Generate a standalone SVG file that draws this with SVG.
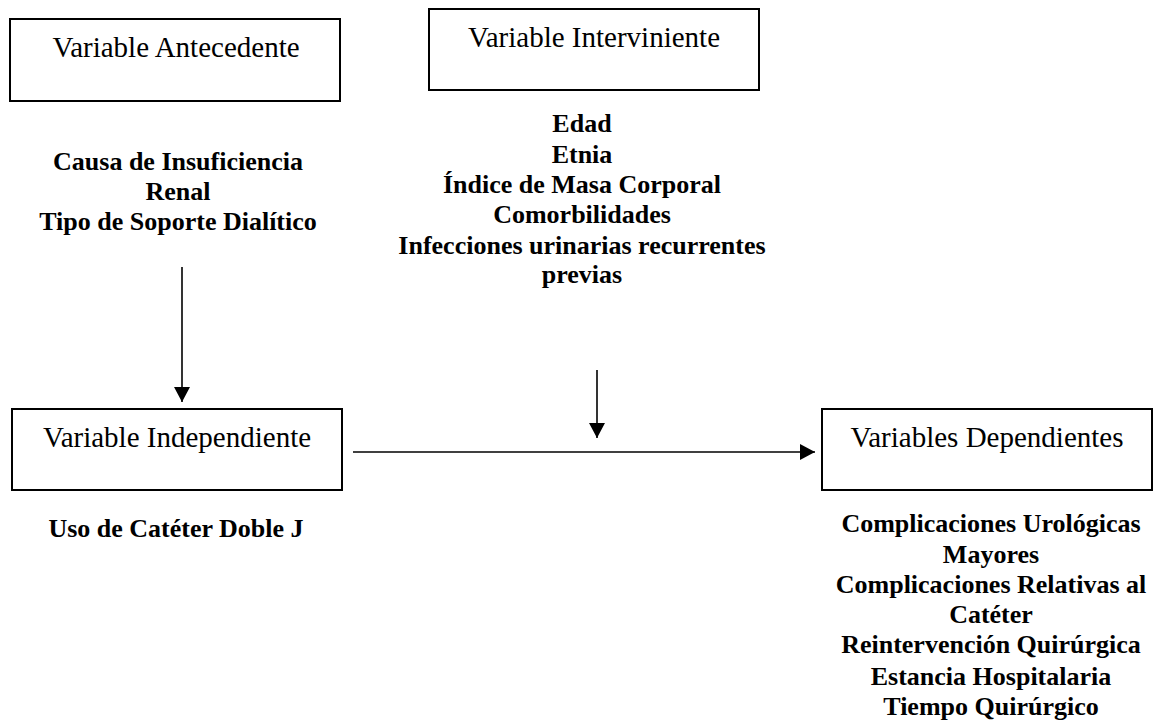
<svg xmlns="http://www.w3.org/2000/svg" width="1158" height="723" viewBox="0 0 1158 723">
  <style>
    .box { fill: #ffffff; stroke: #000000; stroke-width: 2; }
    .title { font-family: "Liberation Serif", "Times New Roman", serif; font-size: 29px; fill: #000000; text-anchor: middle; }
    .list { font-family: "Liberation Serif", "Times New Roman", serif; font-size: 26px; font-weight: bold; fill: #000000; text-anchor: middle; }
    .conn { stroke: #000000; stroke-width: 1.6; fill: none; marker-end: url(#arrow); }
  </style>
  <defs>
    <marker id="arrow" markerUnits="userSpaceOnUse" markerWidth="16" markerHeight="16" refX="15" refY="8" orient="auto">
      <path d="M0,0 L15,8 L0,16 Z" fill="#000000"/>
    </marker>
  </defs>
  <rect width="1158" height="723" fill="#ffffff"/>

  <g id="antecedente">
    <rect class="box" x="10" y="19" width="330" height="82"/>
    <text class="title" x="176" y="57">Variable Antecedente</text>
    <text class="list" x="178" y="170">Causa de Insuficiencia</text>
    <text class="list" x="178" y="200">Renal</text>
    <text class="list" x="178" y="230">Tipo de Soporte Dialítico</text>
  </g>

  <g id="interviniente">
    <rect class="box" x="429" y="9" width="330" height="81"/>
    <text class="title" x="594" y="47">Variable Interviniente</text>
    <text class="list" x="582" y="132">Edad</text>
    <text class="list" x="582" y="163">Etnia</text>
    <text class="list" x="582" y="193">Índice de Masa Corporal</text>
    <text class="list" x="582" y="223">Comorbilidades</text>
    <text class="list" x="582" y="254">Infecciones urinarias recurrentes</text>
    <text class="list" x="582" y="283">previas</text>
  </g>

  <g id="independiente">
    <rect class="box" x="12" y="409" width="330" height="81"/>
    <text class="title" x="177" y="447">Variable Independiente</text>
    <text class="list" x="176" y="537">Uso de Catéter Doble J</text>
  </g>

  <g id="dependientes">
    <rect class="box" x="822" y="409" width="330" height="81"/>
    <text class="title" x="987" y="447">Variables Dependientes</text>
    <text class="list" x="991" y="532">Complicaciones Urológicas</text>
    <text class="list" x="991" y="563">Mayores</text>
    <text class="list" x="991" y="593">Complicaciones Relativas al</text>
    <text class="list" x="991" y="623">Catéter</text>
    <text class="list" x="991" y="653">Reintervención Quirúrgica</text>
    <text class="list" x="991" y="685">Estancia Hospitalaria</text>
    <text class="list" x="991" y="715">Tiempo Quirúrgico</text>
  </g>

  <g id="connectors">
    <line class="conn" x1="182" y1="267" x2="182" y2="402"/>
    <line class="conn" x1="597" y1="370" x2="597" y2="438"/>
    <line class="conn" x1="353" y1="452" x2="815" y2="452"/>
  </g>
</svg>
